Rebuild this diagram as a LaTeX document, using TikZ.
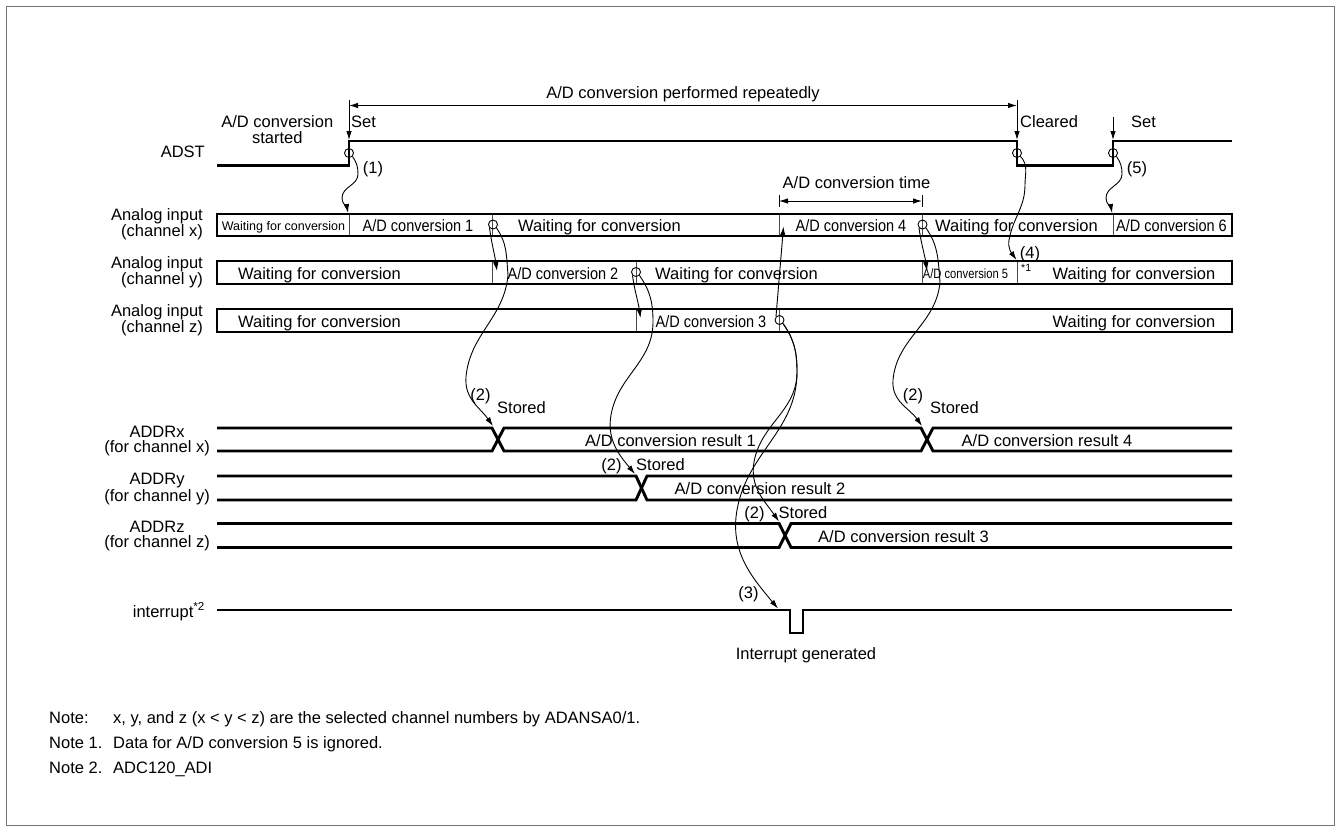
\documentclass[tikz,border=0pt]{standalone}
\usepackage{fontspec}
\usepackage{graphicx}
\setmainfont{Liberation Sans}
\usetikzlibrary{arrows.meta}
\newcommand{\cvlbl}[1]{\scalebox{0.88}[1]{#1}}
\newcommand{\cvsmall}[1]{{\fontsize{13.5}{13.5}\selectfont\scalebox{0.83}[1]{#1}}}
\newcommand{\wsmall}[1]{{\fontsize{12.5}{12.5}\selectfont #1}}
\begin{document}
\begin{tikzpicture}[x=1pt,y=-1pt,
  sig/.style={line width=2.9pt},
  thinl/.style={line width=1pt},
  divl/.style={line width=1pt, black!70},
  conn/.style={line width=0.9pt, -{Latex[length=9pt,width=5.5pt]}},
  dimarr/.style={line width=0.9pt, {Latex[length=9pt,width=5.5pt]}-{Latex[length=9pt,width=5.5pt]}},
  lbl/.style={font=\fontsize{16.5}{14.5}\selectfont, inner sep=0pt},
  bl/.style={lbl, anchor=base},
  ring/.style={circle, draw, line width=0.9pt, minimum size=9pt, inner sep=0pt},
]
\useasboundingbox (0,0) rectangle (1340,831);
\draw[black!55, line width=1pt] (6,6) rectangle (1334,825);

% ---------------- ADST ----------------
\draw[sig] (217,165.5) -- (349,165.5) -- (349,141) -- (1017,141) -- (1017,165.5) -- (1113,165.5) -- (1113,141) -- (1232,141);
\node[bl, anchor=base east] (adst) at (205,157.5) {ADST};
\node[lbl, align=center, font=\fontsize{16.5}{16}\selectfont, anchor=base] (started) at (277.3,143.3) {A/D conversion\\started};

\coordinate (s1top) at (349,100);  \coordinate (s1bot) at (349,140);
\coordinate (c1top) at (1017,100); \coordinate (c1bot) at (1017,140);
\coordinate (s2top) at (1113,117); \coordinate (s2bot) at (1113,140);
\draw[conn] (s1top) -- (s1bot);
\draw[conn] (c1top) -- (c1bot);
\draw[conn] (s2top) -- (s2bot);
\coordinate (repL) at (349,105.5); \coordinate (repR) at (1017,105.5);
\draw[dimarr] (repL) -- (repR);
\node[bl] (rep) at (683,98) {A/D conversion performed repeatedly};
\node[bl, anchor=base west] (set1) at (351,127) {Set};
\node[bl, anchor=base west] (clr) at (1020,127) {Cleared};
\node[bl, anchor=base west] (set2) at (1131,127) {Set};

\node[ring] (a1) at (349,153) {};
\node[ring] (a2) at (1017,153) {};
\node[ring] (a3) at (1113,153) {};

% ---------------- analog input bars ----------------
\draw[sig] (217,214) rectangle (1232,236);
\draw[sig] (217,261) rectangle (1232,284);
\draw[sig] (217,309) rectangle (1232,332);
\foreach \x in {349,492,779,922,1113} \draw[divl] (\x,215) -- (\x,235);
\foreach \x in {492,636,922,1017} \draw[divl] (\x,262) -- (\x,283);
\foreach \x in {636,779} \draw[divl] (\x,310) -- (\x,331);

\node[lbl, align=right, anchor=east] (lx) at (203,224.5) {Analog input\\(channel x)};
\node[lbl, align=right, anchor=east] (ly) at (203,272) {Analog input\\(channel y)};
\node[lbl, align=right, anchor=east] (lz) at (203,320) {Analog input\\(channel z)};

% channel x texts
\node[bl] (x0) at (283.5,230.5) {\wsmall{Waiting for conversion}};
\node[bl] (xc1) at (418,231.5) {\cvlbl{A/D conversion 1}};
\node[bl] (xw1) at (599.5,231.5) {Waiting for conversion};
\node[bl] (xc4) at (851,231.5) {\cvlbl{A/D conversion 4}};
\node[bl] (xw2) at (1016.5,231.5) {Waiting for conversion};
\node[bl] (xc6) at (1171.5,231.5) {\cvlbl{A/D conversion 6}};
% channel y texts
\node[bl] (yw0) at (319.5,279) {Waiting for conversion};
\node[bl] (yc2) at (563,279) {\cvlbl{A/D conversion 2}};
\node[bl] (yw1) at (736.5,279) {Waiting for conversion};
\node[bl] (yc5) at (965.5,278.5) {\cvsmall{A/D conversion 5}};
\node[bl, anchor=base west, font=\fontsize{10.5}{10.5}\selectfont] (note1mark) at (1021,271.5) {*1};
\node[bl] (yw2) at (1134,279) {Waiting for conversion};
% channel z texts
\node[bl] (zw0) at (319.5,327) {Waiting for conversion};
\node[bl] (zc3) at (711,327) {\cvlbl{A/D conversion 3}};
\node[bl] (zw1) at (1134,327) {Waiting for conversion};

\node[ring] (x1) at (493,224.5) {};
\node[ring] (x2) at (922.5,224.5) {};
\node[ring] (y1) at (636,272) {};
\node[ring] (z1) at (779.5,320) {};

% A/D conversion time
\coordinate (tL) at (779,201); \coordinate (tR) at (922,201);
\draw[thinl] (779,195) -- (779,207);
\draw[thinl] (922,195) -- (922,207);
\draw[dimarr] (tL) -- (tR);
\node[bl] (ctime) at (856.5,188.5) {A/D conversion time};

% ---------------- ADDR buses ----------------
\draw[sig] (217,428) -- (492,428) -- (504,451) -- (921,451) -- (933,428) -- (1232,428);
\draw[sig] (217,451) -- (492,451) -- (504,428) -- (921,428) -- (933,451) -- (1232,451);
\draw[sig] (217,476) -- (636,476) -- (647,500) -- (1232,500);
\draw[sig] (217,500) -- (636,500) -- (647,476) -- (1232,476);
\draw[sig] (217,523.5) -- (779,523.5) -- (791,547.5) -- (1232,547.5);
\draw[sig] (217,547.5) -- (779,547.5) -- (791,523.5) -- (1232,523.5);

\node[lbl, align=center, anchor=east, font=\fontsize{16.5}{15}\selectfont] (ax) at (210,441) {ADDRx\\(for channel x)};
\node[lbl, align=center, anchor=east, font=\fontsize{16.5}{15}\selectfont] (ay) at (210,489) {ADDRy\\(for channel y)};
\node[lbl, align=center, anchor=east, font=\fontsize{16.5}{15}\selectfont] (az) at (210,536.5) {ADDRz\\(for channel z)};

\node[bl] (r1) at (670.5,446) {A/D conversion result 1};
\node[bl] (r4) at (1047,446) {A/D conversion result 4};
\node[bl] (r2) at (760,494.5) {A/D conversion result 2};
\node[bl] (r3) at (903.5,542) {A/D conversion result 3};

\node[bl] (n2a) at (480.5,400) {(2)};
\node[bl, anchor=base west] (st1) at (497,413) {Stored};
\node[bl] (n2b) at (913,400) {(2)};
\node[bl, anchor=base west] (st4) at (930,413) {Stored};
\node[bl] (n2c) at (611.5,470) {(2)};
\node[bl, anchor=base west] (st2) at (636,470) {Stored};
\node[bl] (n2d) at (754.5,518) {(2)};
\node[bl, anchor=base west] (st3) at (778.5,518) {Stored};

% ---------------- interrupt ----------------
\draw[sig] (217,610) -- (790,610) -- (790,633) -- (803,633) -- (803,610) -- (1232,610);
\node[bl, anchor=base east] (intl) at (205,617) {interrupt\textsuperscript{*2}};
\node[bl] (intg) at (806,659) {Interrupt generated};
\node[bl] (n3) at (748.5,598) {(3)};

% ---------------- connectors ----------------
\coordinate (t1) at (348,213);
\coordinate (t4) at (1016.5,260);
\coordinate (t5) at (1112,213);
\coordinate (tx1y) at (497,271);
\coordinate (ty1z) at (640.5,318);
\coordinate (tx2y) at (927,271);
\coordinate (tz1x) at (783.5,226.5);
\coordinate (rx1) at (493,426);
\coordinate (rx2) at (922,426);
\coordinate (ry1) at (635,474);
\coordinate (rz1) at (779,521.5);
\coordinate (ri) at (778,608.5);

\draw[conn] (a1.south east) to[out=-55,in=90] (358,174) to[out=-90,in=90] (342,198) to[out=-90,in=100] (t1);
\node[bl] (n1) at (373,173) {(1)};
\draw[conn] (a3.south east) to[out=-55,in=90] (1122,174) to[out=-90,in=90] (1106,198) to[out=-90,in=100] (t5);
\node[bl] (n5) at (1137,173) {(5)};
\draw[conn] (a2.south east) to[out=-45,in=90] (1025,185) to[out=-90,in=80] (1009,240) to[out=-100,in=125] (t4);
\node[bl] (n4) at (1030,258) {(4)};

\draw[conn] (x1.south west) to[out=-82,in=98] (tx1y);
\draw[conn] (y1.south west) to[out=-82,in=98] (ty1z);
\draw[conn] (x2.south west) to[out=-82,in=98] (tx2y);
\draw[conn] (z1.north west) -- (tz1x);

\draw[conn] (x1.south east) to[out=-55,in=95] (508,275) to[out=-95,in=85] (466,377) to[out=-95,in=125] (rx1);
\draw[conn] (y1.south east) to[out=-55,in=90] (653,322) to[out=-90,in=80] (611,415) to[out=-100,in=130] (ry1);
\draw[conn] (x2.south east) to[out=-55,in=95] (940,282) to[out=-95,in=85] (893,380) to[out=-95,in=125] (rx2);
\draw[conn] (z1.south east) to[out=-55,in=90] (797,372) to[out=-90,in=80] (754,462) to[out=-100,in=125] (rz1);
\draw[conn] (z1.south east) to[out=-55,in=90] (797,372) to[out=-90,in=80] (737,510) to[out=-100,in=130] (ri);

% ---------------- notes ----------------
\node[bl, anchor=base west] (nt0) at (49,723) {Note:};
\node[bl, anchor=base west] (nt0t) at (113,723) {x, y, and z (x < y < z) are the selected channel numbers by ADANSA0/1.};
\node[bl, anchor=base west] (nt1) at (49,748) {Note 1.};
\node[bl, anchor=base west] (nt1t) at (113,748) {Data for A/D conversion 5 is ignored.};
\node[bl, anchor=base west] (nt2) at (49,773) {Note 2.};
\node[bl, anchor=base west] (nt2t) at (113,773) {ADC120\_ADI};
\end{tikzpicture}
\end{document}
